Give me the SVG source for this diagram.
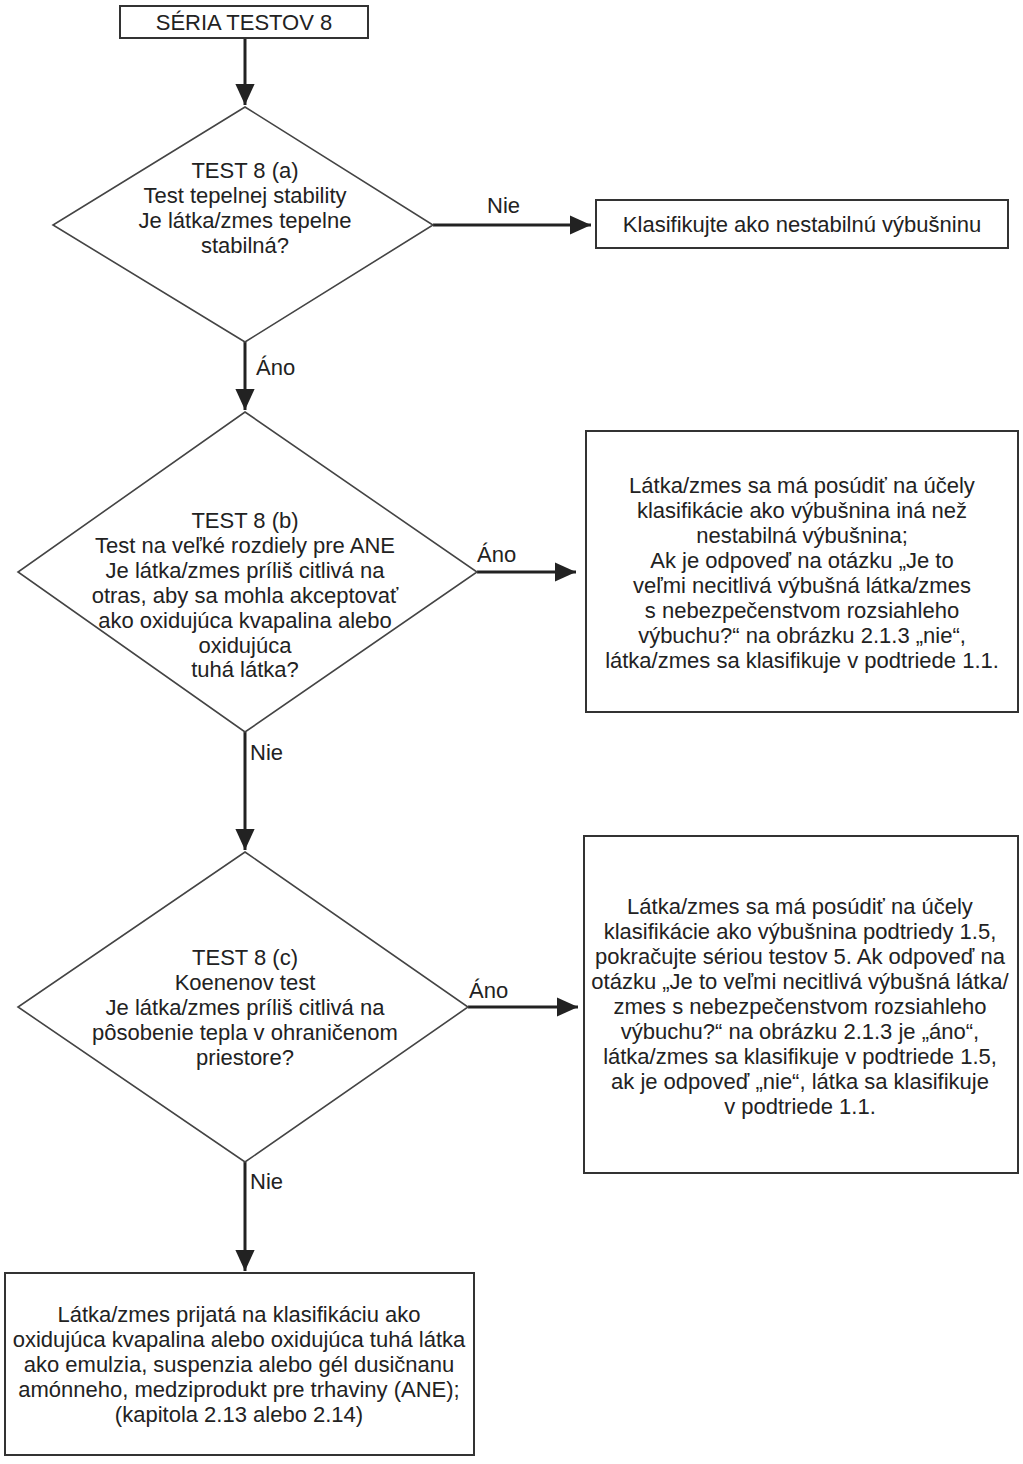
<svg xmlns="http://www.w3.org/2000/svg" width="1023" height="1464" viewBox="0 0 1023 1464">
<style>
.box{fill:#fff;stroke:#333;stroke-width:2}
.dia{fill:#fff;stroke:#444;stroke-width:1.6}
.t{font-family:"Liberation Sans",Arial,sans-serif;font-size:22px;fill:#222;text-anchor:middle}
.l{font-family:"Liberation Sans",Arial,sans-serif;font-size:22px;fill:#222}
.c{stroke:#222;stroke-width:3;fill:none;marker-end:url(#ah)}
</style>
<defs>
<marker id="ah" markerWidth="8" markerHeight="8" refX="7" refY="4" orient="auto" markerUnits="strokeWidth">
<path d="M0,0.8 L7,4 L0,7.2 Z" fill="#222"/>
</marker>
</defs>
<rect width="1023" height="1464" fill="#fff"/>
<g id="connectors">
<line class="c" x1="245" y1="38" x2="245" y2="105"/>
<line class="c" x1="433" y1="225" x2="591" y2="225"/>
<line class="c" x1="245" y1="342" x2="245" y2="410"/>
<line class="c" x1="477" y1="572" x2="576" y2="572"/>
<line class="c" x1="245" y1="732" x2="245" y2="850"/>
<line class="c" x1="468" y1="1007" x2="578" y2="1007"/>
<line class="c" x1="245" y1="1162" x2="245" y2="1271"/>
<text class="l" x="487" y="213">Nie</text>
<text class="l" x="256" y="375">Áno</text>
<text class="l" x="477" y="562">Áno</text>
<text class="l" x="250" y="760">Nie</text>
<text class="l" x="469" y="998">Áno</text>
<text class="l" x="250" y="1189">Nie</text>
</g>
<g id="start">
<rect class="box" x="120" y="6" width="248" height="32"/>
<text class="t" x="244" y="30">SÉRIA TESTOV 8</text>
</g>
<g id="test8a">
<polygon class="dia" points="245,107 433,225 245,342 53,225"/>
<text class="t" x="245" y="178">TEST 8 (a)</text>
<text class="t" x="245" y="203">Test tepelnej stability</text>
<text class="t" x="245" y="228">Je látka/zmes tepelne</text>
<text class="t" x="245" y="253">stabilná?</text>
</g>
<g id="unstable">
<rect class="box" x="596" y="200" width="412" height="48"/>
<text class="t" x="802" y="232">Klasifikujte ako nestabilnú výbušninu</text>
</g>
<g id="test8b">
<polygon class="dia" points="245,412 477,572 245,732 18,572"/>
<text class="t" x="245" y="528">TEST 8 (b)</text>
<text class="t" x="245" y="553">Test na veľké rozdiely pre ANE</text>
<text class="t" x="245" y="578">Je látka/zmes príliš citlivá na</text>
<text class="t" x="245" y="603">otras, aby sa mohla akceptovať</text>
<text class="t" x="245" y="628">ako oxidujúca kvapalina alebo</text>
<text class="t" x="245" y="653">oxidujúca</text>
<text class="t" x="245" y="677">tuhá látka?</text>
</g>
<g id="box11">
<rect class="box" x="586" y="431" width="432" height="281"/>
<text class="t" x="802" y="493">Látka/zmes sa má posúdiť na účely</text>
<text class="t" x="802" y="518">klasifikácie ako výbušnina iná než</text>
<text class="t" x="802" y="543">nestabilná výbušnina;</text>
<text class="t" x="802" y="568">Ak je odpoveď na otázku „Je to</text>
<text class="t" x="802" y="593">veľmi necitlivá výbušná látka/zmes</text>
<text class="t" x="802" y="618">s nebezpečenstvom rozsiahleho</text>
<text class="t" x="802" y="643">výbuchu?“ na obrázku 2.1.3 „nie“,</text>
<text class="t" x="802" y="668">látka/zmes sa klasifikuje v podtriede 1.1.</text>
</g>
<g id="test8c">
<polygon class="dia" points="245,852 468,1007 245,1162 18,1007"/>
<text class="t" x="245" y="965">TEST 8 (c)</text>
<text class="t" x="245" y="990">Koenenov test</text>
<text class="t" x="245" y="1015">Je látka/zmes príliš citlivá na</text>
<text class="t" x="245" y="1040">pôsobenie tepla v ohraničenom</text>
<text class="t" x="245" y="1065">priestore?</text>
</g>
<g id="box15">
<rect class="box" x="584" y="836" width="434" height="337"/>
<text class="t" x="800" y="914">Látka/zmes sa má posúdiť na účely</text>
<text class="t" x="800" y="939">klasifikácie ako výbušnina podtriedy 1.5,</text>
<text class="t" x="800" y="964">pokračujte sériou testov 5. Ak odpoveď na</text>
<text class="t" x="800" y="989">otázku „Je to veľmi necitlivá výbušná látka/</text>
<text class="t" x="800" y="1014">zmes s nebezpečenstvom rozsiahleho</text>
<text class="t" x="800" y="1039">výbuchu?“ na obrázku 2.1.3 je „áno“,</text>
<text class="t" x="800" y="1064">látka/zmes sa klasifikuje v podtriede 1.5,</text>
<text class="t" x="800" y="1089">ak je odpoveď „nie“, látka sa klasifikuje</text>
<text class="t" x="800" y="1114">v podtriede 1.1.</text>
</g>
<g id="accepted">
<rect class="box" x="5" y="1273" width="469" height="182"/>
<text class="t" x="239" y="1322">Látka/zmes prijatá na klasifikáciu ako</text>
<text class="t" x="239" y="1347">oxidujúca kvapalina alebo oxidujúca tuhá látka</text>
<text class="t" x="239" y="1372">ako emulzia, suspenzia alebo gél dusičnanu</text>
<text class="t" x="239" y="1397">amónneho, medziprodukt pre trhaviny (ANE);</text>
<text class="t" x="239" y="1422">(kapitola 2.13 alebo 2.14)</text>
</g>
</svg>
